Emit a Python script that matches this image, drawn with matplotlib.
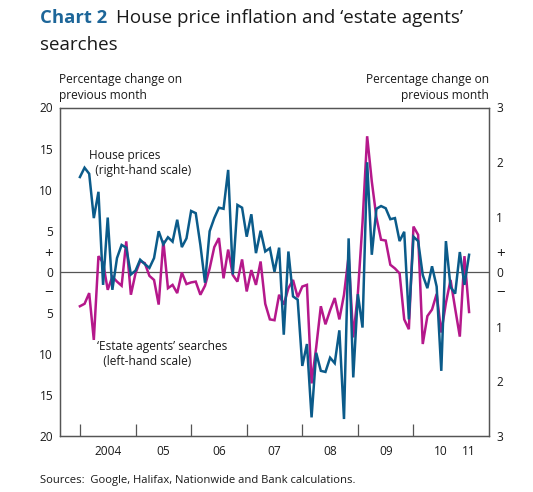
import numpy as np
import matplotlib
matplotlib.use("Agg")
import matplotlib.pyplot as plt

# ── dados (variação mensal, jan/2004 a jan/2011) ─────────────────────────────
HOUSE_PRICES = [  # escala da direita, %
    1.73, 1.90, 1.79, 0.98, 1.46, -0.24, 0.99, -0.33, 0.25, 0.49, 0.44, -0.05,
    0.02, 0.22, 0.14, 0.07, 0.25, 0.74, 0.50, 0.63, 0.55, 0.95, 0.45, 0.61,
    1.11, 1.07, 0.49, -0.20, 0.74, 0.98, 1.17, 1.15, 1.86, -0.05, 1.22, 1.17,
    0.64, 1.05, 0.34, 0.75, 0.37, 0.43, 0.00, 0.44, -1.15, 0.37, -0.45, -0.51,
    -1.72, -1.32, -2.66, -1.48, -1.81, -1.83, -1.57, -1.67, -1.07, -2.69, 0.61, -1.93,
    -0.41, -1.02, 2.00, 0.31, 1.15, 1.20, 1.16, 0.96, 0.98, 0.56, 0.73, -0.87,
    0.64, 0.56, -0.06, -0.30, 0.10, -0.27, -1.81, 0.56, -0.28, -0.40, 0.36, -0.24,
    0.31,
]
SEARCHES = [  # escala da esquerda, %
    -4.2, -3.9, -2.6, -8.3, 1.9, 1.1, -2.2, -0.6, -1.2, -1.7, 3.7, -2.8,
    -0.2, 1.3, 1.05, -0.5, -1.0, -4.0, 3.8, -2.0, -1.6, -2.6, -0.1, -1.5,
    -1.3, -1.2, -2.8, -1.7, 0.4, 3.0, 4.1, -0.8, 2.7, -0.4, -1.2, 1.5,
    -2.4, 0.2, -1.6, 1.25, -3.9, -5.8, -5.9, -2.8, -4.0, -2.0, -1.0, -3.1,
    -1.8, -1.6, -13.6, -9.2, -4.2, -6.4, -4.7, -3.2, -5.8, -2.8, 1.9, -8.0,
    -2.6, 6.0, 16.5, 11.0, 6.6, 3.9, 3.8, 0.85, 0.4, -0.2, -5.8, -7.0,
    5.5, 4.5, -8.8, -5.4, -4.6, -2.7, -7.4, -3.8, -1.0, -4.5, -7.9, 1.9,
    -4.9,
]
YEAR_LABELS = ['2004', '05', '06', '07', '08', '09', '10', '11']
LEFT_TICKS = [20, 15, 10, 5, 0, -5, -10, -15, -20]
RIGHT_TICKS = [3, 2, 1, 0, -1, -2, -3]

# ── estilo ───────────────────────────────────────────────────────────────────
COR = {"casas": "#0B5B8A", "buscas": "#B5188B", "titulo": "#1D6699",
       "texto": "#1A1A1A", "eixo": "#555555"}
W, H = 533, 492
plt.rcParams['font.family'] = ['Open Sans', 'DejaVu Sans']
FS = 8.6
FS_SINAL = 11


def fx(x):
    return x / W


def fy(y):
    return 1 - y / H


fig = plt.figure(figsize=(W / 100, H / 100), dpi=100)
ax = fig.add_axes([fx(60), fy(436), (489 - 60) / W, (436 - 107.5) / H])
ax2 = ax.twinx()

meses = np.arange(len(HOUSE_PRICES))
ax.plot(meses, SEARCHES, color=COR['buscas'], lw=1.8, zorder=3,
        solid_joinstyle='miter')
ax2.plot(meses, HOUSE_PRICES, color=COR['casas'], lw=1.8, zorder=3,
         solid_joinstyle='miter')
ax.axhline(0, color=COR['eixo'], lw=0.9, zorder=1)

ax.set_xlim(-4.3, 88.3)
ax.set_ylim(-20, 20)
ax2.set_ylim(-3, 3)

# eixo x: marcas em janeiro, rótulos no meio do ano
ax.set_xticks(np.arange(0, 85, 12), minor=True)
pos_rot = list(np.arange(6, 80, 12)) + [84]
ax.set_xticks(pos_rot)
ax.set_xticklabels(YEAR_LABELS)
ax.tick_params(axis='x', which='major', length=0, pad=6.5, labelsize=FS,
               labelcolor=COR['texto'])
ax.tick_params(axis='x', which='minor', direction='in', length=8.5,
               width=0.9, color=COR['eixo'])

# eixo esquerdo
ax.set_yticks(LEFT_TICKS + [2.4, -2.4])
ax.set_yticklabels([str(abs(v)) for v in LEFT_TICKS] + ['+', '\u2212'])
ax.set_yticks([15, 10, 5, -5, -10, -15], minor=True)
ax.tick_params(axis='y', which='major', length=0, pad=5, labelsize=FS,
               labelcolor=COR['texto'])
ax.tick_params(axis='y', which='minor', direction='in', length=8.5,
               width=0.9, color=COR['eixo'])

# eixo direito
ax2.set_yticks(RIGHT_TICKS + [0.36, -0.36])
ax2.set_yticklabels([str(abs(v)) for v in RIGHT_TICKS] + ['+', '\u2212'])
ax2.set_yticks([2, 1, -1, -2], minor=True)
ax2.tick_params(axis='y', which='major', length=0, pad=5, labelsize=FS,
                labelcolor=COR['texto'])
ax2.tick_params(axis='y', which='minor', direction='in', length=8.5,
                width=0.9, color=COR['eixo'])

for lbl in ax.get_yticklabels()[-2:] + ax2.get_yticklabels()[-2:]:
    lbl.set_fontsize(FS_SINAL)

for a in (ax, ax2):
    for s in a.spines.values():
        s.set_color(COR['eixo'])
        s.set_linewidth(0.9)

# títulos e textos
fig.text(fx(40), fy(18), 'Chart 2', color=COR['titulo'], fontsize=13.3,
         fontweight='bold', va='center')
fig.text(fx(116), fy(18), "House price inflation and \u2018estate agents\u2019",
         color=COR['texto'], fontsize=13.5, va='center')
fig.text(fx(40), fy(45), 'searches', color=COR['texto'], fontsize=13.5,
         va='center')

fig.text(fx(59), fy(88), 'Percentage change on\nprevious month', fontsize=FS,
         color=COR['texto'], va='center', ha='left', linespacing=1.3)
fig.text(fx(489), fy(88), 'Percentage change on\nprevious month', fontsize=FS,
         color=COR['texto'], va='center', ha='right', linespacing=1.3,
         multialignment='right')

fig.text(fx(89), fy(163), 'House prices\n  (right-hand scale)', fontsize=FS,
         color=COR['texto'], va='center', ha='left', linespacing=1.25)
fig.text(fx(97), fy(354), '\u2018Estate agents\u2019 searches\n  (left-hand scale)',
         fontsize=FS, color=COR['texto'], va='center', ha='left',
         linespacing=1.25)

fig.text(fx(40), fy(481), 'Sources:  Google, Halifax, Nationwide and Bank calculations.',
         fontsize=8.1, color=COR['texto'], va='center', ha='left')

fig.savefig('out.png', dpi=100)
